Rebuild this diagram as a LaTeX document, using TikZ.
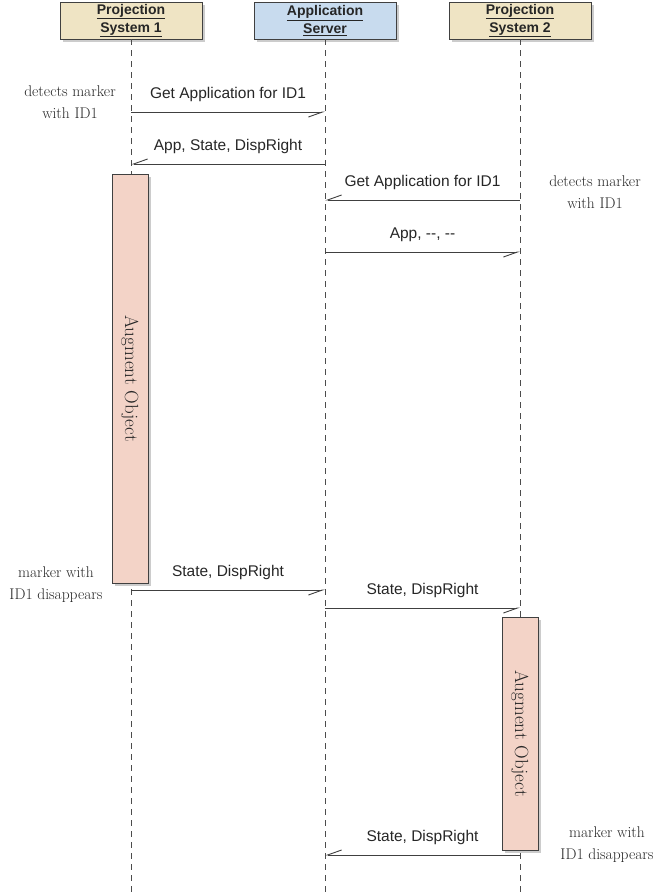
\documentclass[tikz,border=0pt]{standalone}
\usepackage{fontspec}
\setsansfont{Liberation Sans}
\usetikzlibrary{arrows.meta,shadows}
\definecolor{headtan}{HTML}{EFE4C4}
\definecolor{headblue}{HTML}{C8DBEE}
\definecolor{actpink}{HTML}{F3D3C7}
\begin{document}
\begin{tikzpicture}[x=1pt, y=-1pt,
  shade/.style={drop shadow={shadow xshift=2.5pt, shadow yshift=-3pt, opacity=0.4}},
  head/.style={draw=black!75, line width=0.8pt, rectangle, shade, minimum width=142pt, minimum height=37pt, align=center, inner sep=0pt, font=\sffamily\bfseries\fontsize{14}{18}\selectfont, text=black!85},
  life/.style={dash pattern=on 6pt off 5pt, line width=0.7pt, black!70},
  act/.style={draw=black!75, line width=0.8pt, fill=actpink, shade, minimum width=36pt, inner sep=0pt},
  msg/.style={-{Straight Barb[harpoon,swap,length=14pt,width=10pt]}, line width=0.9pt, black!75},
  lbl/.style={above=7pt, font=\sffamily\fontsize{15.5}{18}\selectfont, text=black!85},
  note/.style={align=center, font=\fontsize{15.5}{22}\selectfont, text=black!85},
  vtext/.style={rotate=-90, font=\fontsize{19}{22}\selectfont, text=black!85}]
  \useasboundingbox (0,0) rectangle (660,892);

  \node[head, fill=headtan] (ps1) at (131,20.5) {\underline{Projection}\\\underline{System 1}};
  \node[head, fill=headblue] (as) at (325,20.5) {\underline{Application}\\\underline{Server}};
  \node[head, fill=headtan] (ps2) at (520,20.5) {\underline{Projection}\\\underline{System 2}};

  \draw[life] (ps1.south) -- (ps1.south |- 0,892);
  \draw[life] (as.south) -- (as.south |- 0,892);
  \draw[life] (ps2.south) -- (ps2.south |- 0,892);

  \foreach \n/\y in {1/112,2/164,3/200,4/252,5/590,6/608,7/855} {
    \coordinate (l\n) at (ps1.south |- 0,\y);
    \coordinate (c\n) at (as.south |- 0,\y);
    \coordinate (r\n) at (ps2.south |- 0,\y);
  }

  \node[act, minimum height=409pt] (act1) at (130,378.5) {};
  \node[vtext] (act1txt) at (act1) {Augment Object};
  \node[act, minimum height=233pt] (act2) at (520,733.5) {};
  \node[vtext] (act2txt) at (act2) {Augment Object};

  \draw[msg] (l1) -- node[lbl] {Get Application for ID1} (c1);
  \draw[msg] (c2) -- node[lbl] {App, State, DispRight} (l2);
  \draw[msg] (r3) -- node[lbl] {Get Application for ID1} (c3);
  \draw[msg] (c4) -- node[lbl] {App, {-}{-}, {-}{-}} (r4);
  \draw[msg] (l5) -- node[lbl] {State, DispRight} (c5);
  \draw[msg] (c6) -- node[lbl] {State, DispRight} (r6);
  \draw[msg] (r7) -- node[lbl] {State, DispRight} (c7);

  \node[note] (n1) at (70,102) {detects marker\\with ID1};
  \node[note] (n2) at (595,192) {detects marker\\with ID1};
  \node[note] (n3) at (56,585) {marker with\\ID1 disappears};
  \node[note] (n4) at (607,845) {marker with\\ID1 disappears};
\end{tikzpicture}
\end{document}
